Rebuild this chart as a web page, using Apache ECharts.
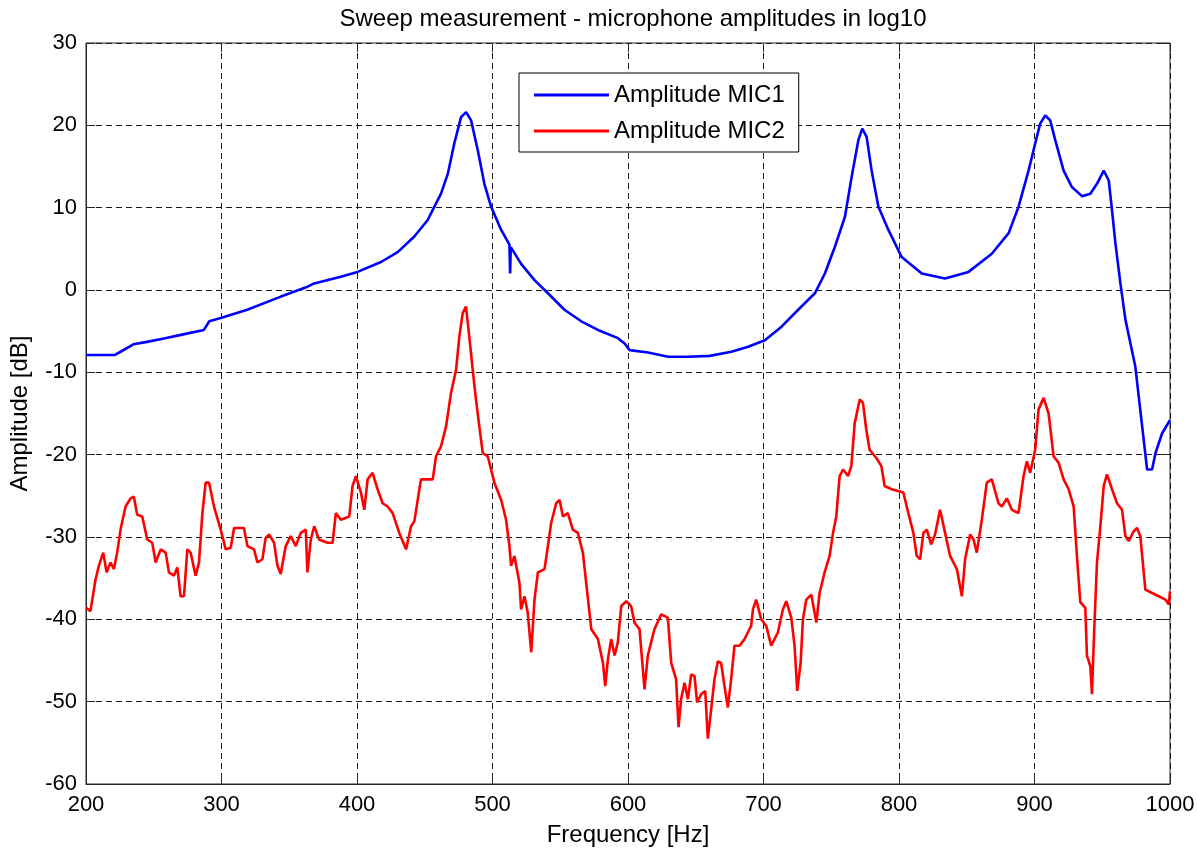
<!DOCTYPE html>
<html>
<head>
<meta charset="utf-8">
<script src="https://cdn.jsdelivr.net/npm/echarts@6/dist/echarts.min.js"></script>
<style>
html,body{margin:0;padding:0;background:#fff;}
#chart{width:1198px;height:852px;}
</style>
</head>
<body>
<div id="chart"></div>
<script>
// ---- Data ----
var titleText = 'Sweep measurement - microphone amplitudes in log10';
var xName = 'Frequency [Hz]';
var yName = 'Amplitude [dB]';
var seriesNames = ['Amplitude MIC1', 'Amplitude MIC2'];

var freq1 = [200,221,225.5,235,245,257.5,270,287,291,299.4,319,343.8,363.5,368.4,388,400.4,417.7,430,442.3,452.2,457,462,467,471.8,476.8,480.5,484.2,489.1,494,499,506.4,512.5,513,513.5,521,531,540.9,553.1,565.5,577.8,592.6,597.5,601.2,614.8,629.6,644.3,660.3,676.3,688.7,701,713.3,725.6,737.9,745.3,752.7,760.1,765,770,772.9,776.1,779.8,784.8,792.2,802,816.8,834,851.3,868.5,880.9,888.2,895.6,900.5,904.2,907.9,911.6,915.3,921.5,927.6,935,941.2,946.1,951.1,954.8,957.2,959.7,963.4,967.1,974.4,976.9,980.6,983.1,986.8,989.3,994.2,1000];
var amp1 = [-7.9,-7.9,-7.5,-6.6,-6.3,-5.9,-5.45,-4.85,-3.8,-3.4,-2.4,-0.8,0.4,0.8,1.6,2.2,3.4,4.6,6.5,8.5,10.1,11.7,14.1,17.8,21.0,21.6,20.6,17.0,12.9,10.1,7.3,5.5,2.0,5.2,3.2,1.2,-0.4,-2.4,-3.8,-4.85,-5.85,-6.5,-7.3,-7.6,-8.1,-8.1,-8.0,-7.5,-6.9,-6.1,-4.45,-2.4,-0.4,2.0,5.25,8.9,13.7,18.2,19.6,18.6,14.5,10.1,7.3,4.0,2.0,1.4,2.2,4.4,6.9,10.1,14.5,17.8,20.2,21.2,20.6,18.2,14.5,12.5,11.4,11.7,12.9,14.5,13.3,9.7,5.7,0.8,-3.6,-9.3,-12.9,-18.2,-21.8,-21.8,-19.8,-17.4,-15.8];

var freq2 = [200,203.3,207,209.5,212.7,215.2,218.1,220.6,223,225.5,229.2,232.9,235.3,237.8,241.5,245.2,248.9,251.4,255.1,258.8,261.2,264.9,267.4,269.8,272.3,274.8,277.2,280.9,283.4,285.9,288.3,290.8,294.5,299.4,303.1,306.8,309.3,316.6,319.1,324,326.5,330.2,332.6,335.1,338.8,341.3,343.7,347.4,351.1,354.8,358.5,362.2,363.4,365.9,368.4,372,378.3,382,384.4,388.1,394.3,396.7,399.2,402.9,405.4,407.8,411.5,415.2,418.9,422.6,426.3,431.2,436.2,439.9,442.3,444.8,447.2,455.9,458.3,462,465.7,469.4,473.1,475.5,478,480.4,482.9,485.4,487.8,490.3,492.8,496.5,501.4,506.4,510,512.5,513.7,516.2,519.9,521.1,523.6,526,528.6,531,533.5,538.4,540.9,543.3,547,549.5,552,555.6,559.3,563,566.7,570.5,572.9,577.8,581.5,583.2,585.2,587.6,590.1,592.5,595,598.7,602.3,604.8,608.5,612.2,614.6,619.5,624.5,629.4,631.9,635.5,637.3,639.2,641.7,644.2,646.6,649.1,651,654,657,658.9,661.4,663.8,666.3,668.7,671.2,673.7,676.1,678.6,682.3,686,688.4,690.9,692.2,694.6,698.3,702,705.7,710.6,714.3,716.8,720.5,722.9,724.9,727.4,729.1,731.6,735.3,739,741.4,745.1,748.8,751.3,753.7,756.2,758.7,762.4,764.8,767.3,771,773.4,775.9,778.3,783.3,787,789.4,794.6,803.2,806.9,810.6,813.1,815.6,818,820.5,823.7,826.6,830.3,834,837.7,842.7,846.4,848.8,852.5,855,857.4,861.1,864.8,868.5,873.4,875.9,879.6,883.3,888.2,891.9,894.4,896.8,900.5,903,906.7,910.4,914.1,917.8,921.5,925.2,928.9,931.3,933.8,937.5,938.7,941.2,942.4,944.1,946.1,948.6,951.1,953.5,957.2,960.9,964.6,967.1,969.5,973.2,975.7,978.1,981.8,986.8,991.7,996.6,999.1,1000];
var amp2 = [-38.6,-39.0,-35.2,-33.5,-31.9,-34.3,-33.1,-33.9,-31.9,-29.1,-26.3,-25.3,-25.1,-27.3,-27.5,-30.3,-30.7,-33.1,-31.5,-31.9,-34.3,-34.7,-33.7,-37.2,-37.2,-31.5,-31.9,-34.7,-33.1,-27.1,-23.4,-23.4,-26.3,-29.1,-31.5,-31.3,-28.9,-28.9,-31.1,-31.5,-33.1,-32.7,-30.1,-29.7,-30.7,-33.5,-34.5,-31.1,-29.9,-31.1,-29.5,-29.1,-34.3,-30.3,-28.7,-30.3,-30.7,-30.7,-27.1,-27.9,-27.5,-23.8,-22.6,-24.6,-26.7,-23,-22.2,-24.2,-25.9,-26.3,-27.1,-29.5,-31.5,-28.7,-28.1,-25.5,-23,-23,-20.2,-19,-16.6,-12.5,-9.7,-5.7,-2.8,-2.0,-5.7,-9.7,-13.3,-16.6,-19.8,-20.2,-23.4,-25.5,-27.9,-31.1,-33.5,-32.3,-35.6,-38.8,-37.2,-39.2,-44,-37.6,-34.3,-33.9,-31.1,-28.3,-25.9,-25.5,-27.5,-27.1,-29.1,-29.5,-31.9,-37.6,-41.2,-42.4,-45.3,-48.1,-44.8,-42.4,-44.4,-42.8,-38.4,-37.8,-38.4,-40.4,-41.2,-48.5,-44.4,-41.2,-39.4,-39.8,-45.3,-47.3,-53.1,-49.7,-47.7,-49.7,-46.7,-46.9,-50.1,-49.1,-48.7,-54.5,-50.9,-47.3,-45.1,-45.3,-48.1,-50.7,-47.3,-43.2,-43.2,-42.4,-41.6,-40.8,-38.8,-37.6,-40,-40.8,-43.2,-41.6,-38.8,-37.8,-39.8,-43.2,-48.7,-45.3,-40,-37.6,-37,-40.4,-36.8,-34.3,-32.3,-29.5,-27.5,-22.6,-21.8,-22.6,-21.4,-16.2,-13.3,-13.7,-17,-19.4,-20.4,-21.4,-23.8,-24.2,-24.6,-27.1,-29.5,-32.3,-32.7,-29.5,-29.1,-30.9,-29.7,-26.7,-29.5,-32.3,-33.9,-37.2,-32.7,-29.7,-30.3,-31.9,-27.9,-23.4,-23,-25.9,-26.3,-25.3,-26.7,-27.1,-22.6,-20.8,-22.2,-19.4,-14.5,-13.1,-15,-20.2,-21,-23,-24.2,-26.3,-32.3,-37.9,-38.6,-44.4,-45.7,-49.1,-41.2,-33.1,-28.7,-23.8,-22.4,-24.2,-25.9,-26.7,-29.9,-30.5,-29.3,-28.9,-29.9,-36.4,-36.8,-37.2,-37.6,-38.2,-36.6];

var xMin = 200, xMax = 1000, xStep = 100;
var yMin = -60, yMax = 30, yStep = 10;

function zip(a, b) { var r = []; for (var i = 0; i < a.length; i++) r.push([a[i], b[i]]); return r; }
function plain(v) { return String(v); }

var FONT = "'Liberation Sans', Arial, Helvetica, sans-serif";
var AX = '#262626';
var chart = echarts.init(document.getElementById('chart'), null, {renderer: 'canvas'});

var gridLine = {show: true, lineStyle: {color: '#1a1a1a', width: 1, type: [6, 4]}};
var option = {
  animation: false,
  backgroundColor: '#ffffff',
  textStyle: {fontFamily: FONT},
  title: {
    text: titleText, left: 628, top: 2, textAlign: 'center',
    textStyle: {fontFamily: FONT, fontSize: 24, fontWeight: 'normal', color: '#000'}
  },
  legend: {
    left: 519, top: 73, orient: 'vertical',
    selectedMode: false,
    backgroundColor: '#fff', borderColor: '#000', borderWidth: 1,
    padding: [10, 14, 9, 15], itemGap: 12,
    itemWidth: 75, itemHeight: 3, icon: 'rect',
    textStyle: {fontFamily: FONT, fontSize: 24, color: '#000', lineHeight: 24},
    data: seriesNames
  },
  grid: {left: 86, right: 28, top: 43, bottom: 67, show: true, borderColor: AX, borderWidth: 1, backgroundColor: '#fff'},
  xAxis: [{
    type: 'value', min: xMin, max: xMax, interval: xStep,
    name: xName, nameLocation: 'middle', nameGap: 39,
    nameTextStyle: {fontFamily: FONT, fontSize: 24, color: '#000'},
    axisLine: {show: true, onZero: false, lineStyle: {color: AX}},
    axisTick: {show: true, inside: true, length: 9, lineStyle: {color: AX}},
    axisLabel: {fontFamily: FONT, fontSize: 22, color: '#000', margin: 10, formatter: plain},
    splitLine: gridLine
  }, {
    type: 'value', min: xMin, max: xMax, interval: xStep, position: 'top',
    axisLine: {show: false, onZero: false},
    axisTick: {show: true, inside: true, length: 9, lineStyle: {color: AX}},
    axisLabel: {show: false}, splitLine: {show: false}
  }],
  yAxis: [{
    type: 'value', min: yMin, max: yMax, interval: yStep,
    name: yName, nameLocation: 'middle', nameGap: 54, nameRotate: 90,
    nameTextStyle: {fontFamily: FONT, fontSize: 24, color: '#000'},
    axisLine: {show: true, onZero: false, lineStyle: {color: AX}},
    axisTick: {show: true, inside: true, length: 9, lineStyle: {color: AX}},
    axisLabel: {fontFamily: FONT, fontSize: 22, color: '#000', margin: 9, formatter: plain},
    splitLine: gridLine
  }, {
    type: 'value', min: yMin, max: yMax, interval: yStep, position: 'right',
    axisLine: {show: false, onZero: false},
    axisTick: {show: true, inside: true, length: 9, lineStyle: {color: AX}},
    axisLabel: {show: false}, splitLine: {show: false}
  }],
  series: [{
    name: seriesNames[0], type: 'line', data: zip(freq1, amp1),
    symbol: 'none', color: '#0000ff',
    lineStyle: {color: '#0000ff', width: 2.6}, z: 3
  }, {
    name: seriesNames[1], type: 'line', data: zip(freq2, amp2),
    symbol: 'none', color: '#ff0000',
    lineStyle: {color: '#ff0000', width: 2.6}, z: 2
  }]
};
chart.setOption(option);
</script>
</body>
</html>
